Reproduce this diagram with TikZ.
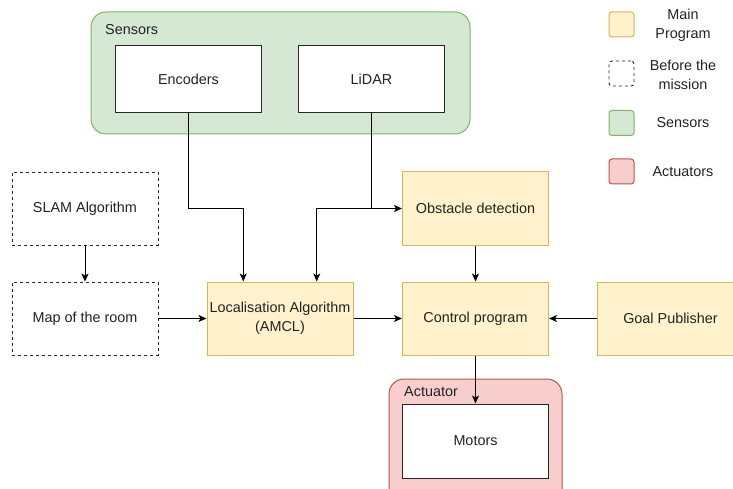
\documentclass[tikz,border=0pt]{standalone}
\usepackage{fontspec}
\setmainfont{Liberation Sans}
\usetikzlibrary{arrows.meta,calc}
\definecolor{yfill}{HTML}{FFF2CC}
\definecolor{ydraw}{HTML}{D6B656}
\definecolor{gfill}{HTML}{D5E8D4}
\definecolor{gdraw}{HTML}{82B366}
\definecolor{rfill}{HTML}{F8CECC}
\definecolor{rdraw}{HTML}{B85450}
\definecolor{txt}{HTML}{222222}
\begin{document}
\begin{tikzpicture}[x=1pt,y=-1pt,
  every node/.style={font=\fontsize{14.4}{19}\selectfont, text=txt, inner sep=0pt, align=center},
  mainbox/.style={draw=ydraw, fill=yfill, line width=1pt, minimum width=146pt, minimum height=73pt},
  prebox/.style={draw=black!85, dashed, dash pattern=on 3pt off 3pt, line width=0.9pt, minimum width=146pt, minimum height=73pt},
  whitebox/.style={draw=black!85, fill=white, line width=1pt, minimum width=146pt, minimum height=67pt},
  group/.style={line width=1pt, rounded corners=15pt},
  arr/.style={draw=black, line width=1pt, -{Stealth[length=8pt,width=7pt,inset=2pt]}},
  legsq/.style={line width=1pt, rounded corners=3pt, minimum width=25pt, minimum height=25pt}
]
\useasboundingbox (0,0) rectangle (733,489);
% containers
\draw[group, draw=gdraw, fill=gfill] (91,12) rectangle (470,134);
\node[anchor=west] (senslbl) at (105,30) {Sensors};
\draw[group, draw=rdraw, fill=rfill] (389,379) rectangle (562,505);
\node[anchor=west] (actlbl) at (404,392) {Actuator};
% nodes
\node[whitebox] (enc) at (188.5,79) {Encoders};
\node[whitebox] (lidar) at (371.5,79) {LiDAR};
\node[prebox] (slam) at (85,208.5) {SLAM Algorithm};
\node[prebox] (map) at (85,318.5) {Map of the room};
\node[mainbox] (loc) at (280,318.5) {Localisation Algorithm\\(AMCL)};
\node[mainbox] (obs) at (475.5,208.5) {Obstacle detection};
\node[mainbox] (ctrl) at (475.5,318.5) {Control program};
\node[mainbox] (goal) at (670.5,318.5) {Goal Publisher};
\node[whitebox, minimum height=74pt] (mot) at (475.5,441) {Motors};
% helper coordinates
\coordinate (la) at ($(loc.north west)!0.25!(loc.north east)$);
\coordinate (lb) at ($(loc.north west)!0.75!(loc.north east)$);
% connectors
\draw[arr] (enc.south) |- (obs.west -| la) -- (la);
\draw[arr] (lidar.south) |- (obs.west);
\draw[arr] (lidar.south |- obs.west) -| (lb);
\draw[arr] (slam) -- (map);
\draw[arr] (map) -- (loc);
\draw[arr] (loc) -- (ctrl);
\draw[arr] (obs) -- (ctrl);
\draw[arr] (goal) -- (ctrl);
\draw[arr] (ctrl.south) -- (mot.north);
% legend
\node[legsq, draw=ydraw, fill=yfill] (lg1) at (621.5,24.5) {};
\node (lt1) at (683,25.5) {Main\\Program};
\node[legsq, draw=black!85, dashed, dash pattern=on 3pt off 3pt, line width=0.9pt] (lg2) at (621.5,73.5) {};
\node (lt2) at (683,75) {Before the\\mission};
\node[legsq, draw=gdraw, fill=gfill] (lg3) at (621.5,123) {};
\node (lt3) at (683,123) {Sensors};
\node[legsq, draw=rdraw, fill=rfill] (lg4) at (621.5,171.5) {};
\node (lt4) at (683,172) {Actuators};
\end{tikzpicture}
\end{document}
